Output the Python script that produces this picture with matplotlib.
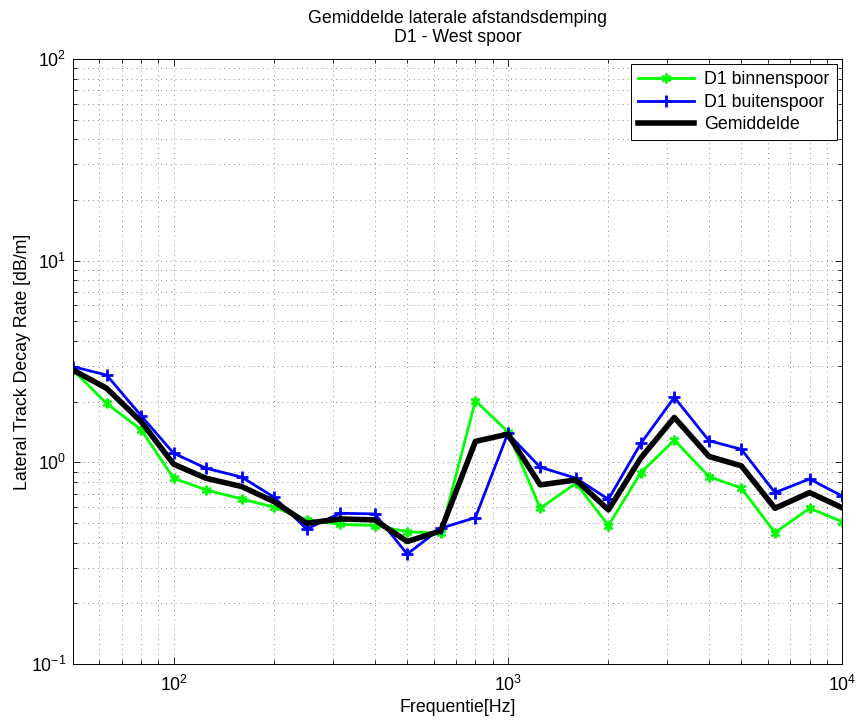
"""Gemiddelde laterale afstandsdemping, D1 - West spoor."""

import matplotlib

matplotlib.use("Agg")
import matplotlib.pyplot as plt
from matplotlib.ticker import LogLocator, NullFormatter

plt.rcParams["font.family"] = ["Liberation Sans", "DejaVu Sans"]
plt.rcParams["mathtext.fontset"] = "custom"
plt.rcParams["mathtext.rm"] = "Liberation Sans"

# third-octave band centre frequencies [Hz]
FREQ = [50, 63, 80, 100, 125, 160, 200, 250, 315, 400, 500, 630,
        800, 1000, 1250, 1600, 2000, 2500, 3150, 4000, 5000, 6300, 8000, 10000]

# decay rate [dB/m]
BINNEN = [2.87, 1.96, 1.45, 0.834, 0.730, 0.658, 0.599, 0.518, 0.493, 0.486, 0.453, 0.445,
          2.02, 1.42, 0.592, 0.788, 0.486, 0.889, 1.29, 0.849, 0.745, 0.448, 0.592, 0.508]
BUITEN = [2.98, 2.71, 1.70, 1.11, 0.935, 0.844, 0.671, 0.467, 0.559, 0.555, 0.351, 0.471,
          0.532, 1.39, 0.946, 0.834, 0.656, 1.24, 2.10, 1.28, 1.16, 0.708, 0.827, 0.681]
GEMIDDELD = [2.87, 2.33, 1.59, 0.979, 0.834, 0.758, 0.638, 0.499, 0.524, 0.518, 0.405, 0.457,
             1.27, 1.38, 0.773, 0.818, 0.581, 1.05, 1.67, 1.07, 0.960, 0.592, 0.708, 0.596]

LABELS = ["D1 binnenspoor", "D1 buitenspoor", "Gemiddelde"]

FS = 12.8

fig = plt.figure(figsize=(8.61, 7.2), dpi=100)
ax = fig.add_axes([73 / 861, 56 / 720, 769 / 861, 605 / 720])

ax.plot(FREQ, BINNEN, color=(0, 1, 0), lw=2, marker=(6, 2, 0), ms=7, mew=1.5,
        label=LABELS[0])
ax.plot(FREQ, BUITEN, color=(0, 0, 1), lw=2, marker="+", ms=8, mew=2,
        label=LABELS[1])
ax.plot(FREQ, GEMIDDELD, color="black", lw=4, label=LABELS[2])

ax.set_xscale("log")
ax.set_yscale("log")
ax.set_xlim(50, 10000)
ax.set_ylim(0.1, 100)

ax.xaxis.set_major_locator(LogLocator(base=10))
ax.yaxis.set_major_locator(LogLocator(base=10))
ax.xaxis.set_minor_locator(LogLocator(base=10, subs=range(2, 10)))
ax.yaxis.set_minor_locator(LogLocator(base=10, subs=range(2, 10)))
ax.xaxis.set_minor_formatter(NullFormatter())
ax.yaxis.set_minor_formatter(NullFormatter())

ax.grid(True, which="both", color="0.55", linestyle=(0, (1, 4)), linewidth=0.7)
ax.set_axisbelow(True)
ax.tick_params(which="both", direction="in", top=True, right=True, labelsize=FS)
ax.tick_params(which="major", length=5, width=0.6, pad=5)
ax.tick_params(axis="x", which="major", pad=8)
ax.tick_params(which="minor", length=3, width=0.6)
for spine in ax.spines.values():
    spine.set_linewidth(0.7)

ax.set_xlabel("Frequentie[Hz]", fontsize=FS, labelpad=3)
ax.set_ylabel("Lateral Track Decay Rate [dB/m]", fontsize=FS, labelpad=0)
ax.set_title("Gemiddelde laterale afstandsdemping\nD1 - West spoor", fontsize=FS,
             linespacing=1.2, pad=12)

leg = ax.legend(loc="upper right", fontsize=FS, fancybox=False, framealpha=1,
                edgecolor="black", borderaxespad=0.3, handlelength=3.1,
                labelspacing=0.3, borderpad=0.4, handletextpad=0.6)
leg.get_frame().set_linewidth(0.7)

fig.savefig("out.png", dpi=100)
